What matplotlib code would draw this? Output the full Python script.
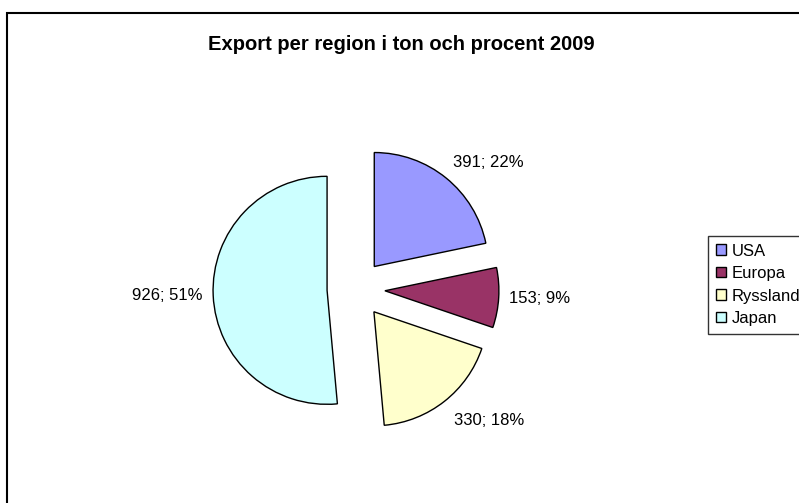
import matplotlib.pyplot as plt
from matplotlib.patches import Rectangle
import numpy as np

plt.rcParams['font.family'] = ['Liberation Sans', 'DejaVu Sans']

# Data
regions = ['USA', 'Europa', 'Ryssland', 'Japan']
tons = [391, 153, 330, 926]
percent = [22, 9, 18, 51]
colors = ['#9999FF', '#993366', '#FFFFCC', '#CCFFFF']

W, H = 799, 503
fig = plt.figure(figsize=(W / 100, H / 100), dpi=100)
ax = fig.add_axes([0, 0, 1, 1])

# pie centre (px from bottom-left) and radius in px
cx, cy, r = 356, 214, 114
explode = 0.254

wedges, _ = ax.pie(tons, colors=colors, startangle=90, counterclock=False,
                   explode=[explode] * len(tons), radius=1,
                   wedgeprops=dict(edgecolor='black', linewidth=1))
ax.set_xlim(-cx / r, (W - cx) / r)
ax.set_ylim(-cy / r, (H - cy) / r)
ax.set_aspect('auto')
ax.axis('off')

# data labels just outside each slice
for w, t, p in zip(wedges, tons, percent):
    ang = np.deg2rad((w.theta1 + w.theta2) / 2)
    ca, sa = np.cos(ang), np.sin(ang)
    d = 1.13 if sa < -0.5 else 1.09
    x = w.center[0] + d * ca
    y = w.center[1] + d * sa
    ha = 'left' if ca > 0.1 else ('right' if ca < -0.1 else 'center')
    va = 'bottom' if sa > 0.5 else ('top' if sa < -0.5 else 'center')
    ax.text(x, y, f'{t}; {p}%', ha=ha, va=va, fontsize=12)

fig.text(401 / W, 1 - 44 / H, 'Export per region i ton och procent 2009',
         ha='center', va='center', fontsize=14.5, fontweight='bold')

leg = fig.legend(wedges, regions, loc='upper left',
                 bbox_to_anchor=(708 / W, 1 - 236 / H), borderaxespad=0,
                 frameon=True, fancybox=False, edgecolor='black', fontsize=12,
                 handlelength=0.6, handleheight=0.6, handletextpad=0.35,
                 labelspacing=0.45, borderpad=0.45)
leg.get_frame().set_linewidth(1)

# chart area border (runs off right and bottom edges)
fig.add_artist(Rectangle((7 / W, -0.1), 1.2, (H - 13) / H + 0.1,
                         transform=fig.transFigure, fill=False,
                         edgecolor='black', linewidth=1.5))

fig.savefig('out.png', dpi=100)
